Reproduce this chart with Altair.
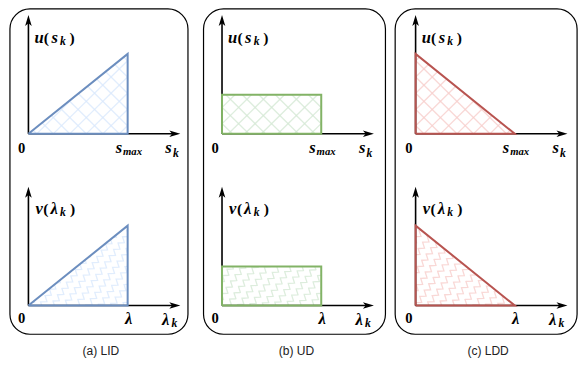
import numpy as np
import pandas as pd
import altair as alt

# ---------------- data ----------------
panels = ["LID", "UD", "LDD"]
captions = ["(a) LID", "(b) UD", "(c) LDD"]
u_at_zero = [0.0, 0.49, 1.0]   # relative height of u / v at s=0 (lambda=0)
u_at_end = [1.0, 0.49, 0.0]    # relative height at s_max (lambda)
stroke_colors = ["#6c8ebf", "#82b366", "#b85450"]
fill_colors = ["#dae8fc", "#d5e8d4", "#f8cecc"]

# ---------------- layout (reference pixel units) ----------------
REF_W, REF_H = 588, 370
W, H = 572, 354
box_x = [(2, 185), (201, 388), (398, 585)]
box_y = (1, 341)
origin_x = [21, 220, 419]
origin_y = [131.5, 311]
LEN = 102
HGT = 83.5
ARROW_X = 156
ARROW_Y = 124
HEAD = 11

xs = alt.Scale(domain=[0, REF_W], nice=False, zero=False)
ys = alt.Scale(domain=[0, REF_H], nice=False, zero=False, reverse=True)
X = lambda f="x": alt.X(f"{f}:Q", scale=xs, axis=None)
Y = lambda f="y": alt.Y(f"{f}:Q", scale=ys, axis=None)


def polygon(i, j):
    ox, oy = origin_x[i], origin_y[j]
    return np.array([
        [ox, oy],
        [ox, oy - u_at_zero[i] * HGT],
        [ox + LEN, oy - u_at_end[i] * HGT],
        [ox + LEN, oy],
    ])


def inside(pts, poly):
    x, y = pts[:, 0], pts[:, 1]
    res = np.zeros(len(pts), bool)
    n = len(poly)
    for k in range(n):
        x1, y1 = poly[k]
        x2, y2 = poly[(k + 1) % n]
        cond = (y1 > y) != (y2 > y)
        with np.errstate(divide="ignore", invalid="ignore"):
            xint = (x2 - x1) * (y - y1) / (y2 - y1) + x1
        res ^= cond & (x < xint)
    return res


def reduce(seg):
    seg = np.array(seg)
    if len(seg) <= 2:
        return seg
    keep = [0]
    for k in range(1, len(seg) - 1):
        a = seg[k] - seg[k - 1]
        b = seg[k + 1] - seg[k]
        if abs(a[0] * b[1] - a[1] * b[0]) > 1e-6:
            keep.append(k)
    keep.append(len(seg) - 1)
    return seg[keep]


def pattern(poly, angle, spacing, amp=0.0, period=1.0):
    a = np.radians(angle)
    d = np.array([np.cos(a), -np.sin(a)])
    nrm = np.array([d[1], -d[0]])
    c = poly.mean(0)
    R = np.max(np.linalg.norm(poly - c, axis=1)) + spacing
    t = np.arange(-R, R, 0.25)
    segs = []
    for off in np.arange(-R, R, spacing):
        w = 0.0
        if amp:
            ph = t / period
            w = amp * (2 * np.abs(2 * (ph - np.floor(ph + 0.5))) - 1)
        pts = c + np.outer(t, d) + np.outer(off + w, nrm)
        ins = inside(pts, poly)
        cur = []
        for p, ok in zip(pts, ins):
            if ok:
                cur.append(p)
            else:
                if len(cur) > 1:
                    segs.append(reduce(cur))
                cur = []
        if len(cur) > 1:
            segs.append(reduce(cur))
    return segs


# pattern + outline tables
pat_rows, out_rows = [], []
sid = 0
for i in range(3):
    for j in range(2):
        poly = polygon(i, j)
        if j == 0:
            segs = pattern(poly, 45, 12) + pattern(poly, -45, 12)
        else:
            segs = pattern(poly, 55, 10, amp=2.6, period=8)
        for s in segs:
            for k, (px, py) in enumerate(s):
                pat_rows.append(dict(x=px, y=py, seg=sid, ord=k, color=fill_colors[i]))
            sid += 1
        ring = np.vstack([poly, poly[:1]])
        for k, (px, py) in enumerate(ring):
            out_rows.append(dict(x=px, y=py, seg=f"{i}-{j}", ord=k, color=stroke_colors[i]))
pat_df = pd.DataFrame(pat_rows)
out_df = pd.DataFrame(out_rows)

# boxes
box_df = pd.DataFrame(dict(x=[b[0] for b in box_x], x2=[b[1] for b in box_x],
                           y=[box_y[0]] * 3, y2=[box_y[1]] * 3))

# axes
ax_rows, hr_rows, hu_rows = [], [], []
for i in range(3):
    for j in range(2):
        ox, oy = origin_x[i], origin_y[j]
        ax_rows.append(dict(x=ox, x2=ox + ARROW_X - HEAD / 2, y=oy, y2=oy))
        ax_rows.append(dict(x=ox, x2=ox, y=oy, y2=oy - ARROW_Y + HEAD / 2))
        hr_rows.append(dict(x=ox + ARROW_X - HEAD / 2, y=oy))
        hu_rows.append(dict(x=ox, y=oy - ARROW_Y + HEAD / 2))
ax_df = pd.DataFrame(ax_rows)
hr_df = pd.DataFrame(hr_rows)
hu_df = pd.DataFrame(hu_rows)

# labels: (text, dx, dy, size, italic)
top_pieces = [("u", 11, -100.5, 17, 1), ("(", 18.5, -100.5, 16, 0), ("s", 27, -100.5, 17, 1),
              ("k", 35.5, -97, 12, 1), (")", 45, -100.5, 16, 0), ("0", -7, 15.5, 15, 0),
              ("s", 93, 15, 17, 1), ("max", 107, 18.5, 11, 1),
              ("s", 144, 15, 17, 1), ("k", 151.5, 20, 12, 1)]
bot_pieces = [("v", 11, -101, 17, 1), ("(", 18, -101, 16, 0), ("λ", 26.5, -101, 17, 1),
              ("k", 35.5, -97.7, 12, 1), (")", 45.5, -101, 16, 0), ("0", -7, 14.5, 15, 0),
              ("λ", 103, 14, 17, 1), ("λ", 141, 14.7, 17, 1), ("k", 150, 18.3, 12, 1)]
lab_rows = []
for i in range(3):
    for j, pieces in enumerate([top_pieces, bot_pieces]):
        for t, dx, dy, sz, it in pieces:
            lab_rows.append(dict(text=t, x=origin_x[i] + dx, y=origin_y[j] + dy,
                                 size=sz * W / REF_W, it=it))
lab_df = pd.DataFrame(lab_rows)
cap_df = pd.DataFrame(dict(text=captions, x=[(b[0] + b[1]) / 2 + 2 for b in box_x], y=[359] * 3))

# ---------------- chart ----------------
boxes = alt.Chart(box_df).mark_rect(cornerRadius=20, fillOpacity=0, stroke="black",
                                     strokeWidth=1.2).encode(x=X(), x2="x2", y=Y(), y2="y2")
pats = alt.Chart(pat_df).mark_line(strokeWidth=1.3, opacity=0.8).encode(
    x=X(), y=Y(), detail="seg:N", order="ord:Q", color=alt.Color("color:N", scale=None))
axes = alt.Chart(ax_df).mark_rule(color="black", strokeWidth=1.6).encode(
    x=X(), x2="x2", y=Y(), y2="y2")
head_r = alt.Chart(hr_df).mark_point(shape="M1,0L-1,-0.6L-0.5,0L-1,0.6Z", filled=True,
                                     size=HEAD * HEAD, color="black", opacity=1).encode(x=X(), y=Y())
head_u = alt.Chart(hu_df).mark_point(shape="M0,-1L0.6,1L0,0.5L-0.6,1Z", filled=True,
                                     size=HEAD * HEAD, color="black", opacity=1).encode(x=X(), y=Y())
outline = alt.Chart(out_df).mark_line(strokeWidth=2, strokeJoin="miter").encode(
    x=X(), y=Y(), detail="seg:N", order="ord:Q", color=alt.Color("color:N", scale=None))
lab_it = alt.Chart(lab_df[lab_df.it == 1]).mark_text(
    font="Liberation Serif", fontStyle="italic", fontWeight="bold", color="black",
    align="center", baseline="middle").encode(
    x=X(), y=Y(), text="text:N", size=alt.Size("size:Q", scale=None))
lab_up = alt.Chart(lab_df[lab_df.it == 0]).mark_text(
    font="Liberation Serif", fontWeight="bold", color="black",
    align="center", baseline="middle").encode(
    x=X(), y=Y(), text="text:N", size=alt.Size("size:Q", scale=None))
caps = alt.Chart(cap_df).mark_text(font="Liberation Sans", fontSize=12, color="#222",
                                   align="center", baseline="middle").encode(
    x=X(), y=Y(), text="text:N")

chart = alt.layer(boxes, pats, axes, head_r, head_u, outline, lab_it, lab_up, caps).properties(
    width=W, height=H, padding=0, autosize="none", background="white"
).configure_view(stroke=None)

chart.save("out.html", embed_options={"renderer": "svg", "actions": False})
